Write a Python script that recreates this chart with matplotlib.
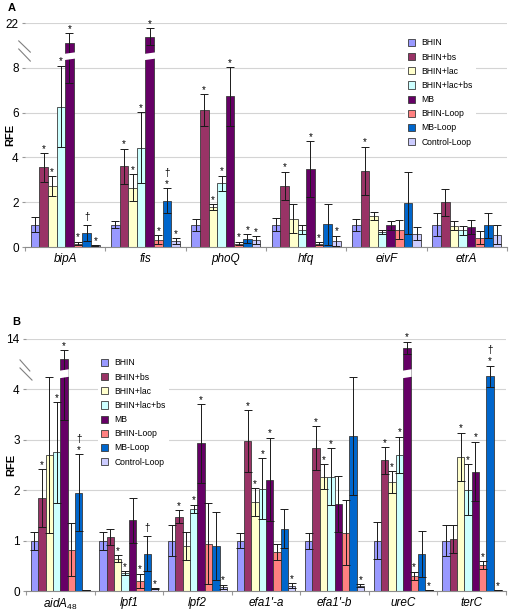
import numpy as np
import matplotlib
matplotlib.use("Agg")
import matplotlib.pyplot as plt
from matplotlib.patches import Polygon

plt.rcParams['font.family'] = ['Liberation Sans', 'DejaVu Sans']
plt.rcParams['mathtext.fontset'] = 'custom'
plt.rcParams['mathtext.it'] = 'Liberation Sans:italic'
plt.rcParams['mathtext.rm'] = 'Liberation Sans'

series = ["BHIN", "BHIN+bs", "BHIN+lac", "BHIN+lac+bs", "MB", "BHIN-Loop", "MB-Loop", "Control-Loop"]
colors = ['#9999FF', '#993366', '#FFFFCC', '#CCFFFF', '#660066', '#FF8080', '#0066CC', '#CCCCFF']

# panel A
genes_a = ["bipA", "fis", "phoQ", "hfq", "eivF", "etrA"]
values_a = [
    [1.0, 3.55, 2.72, 6.27, 12.1, 0.15, 0.63, 0.07],
    [1.0, 3.61, 2.64, 4.43, 15.3, 0.33, 2.07, 0.27],
    [1.0, 6.12, 1.79, 2.84, 6.72, 0.15, 0.37, 0.30],
    [1.0, 2.73, 1.27, 0.78, 3.46, 0.15, 1.01, 0.27],
    [1.0, 3.40, 1.37, 0.67, 0.97, 0.78, 1.97, 0.60],
    [1.0, 1.99, 0.94, 0.75, 0.90, 0.42, 0.97, 0.55],
]
errors_a = [
    [0.35, 0.63, 0.45, 1.82, 4.8, 0.08, 0.37, 0.02],
    [0.15, 0.78, 0.60, 1.59, 4.1, 0.20, 0.56, 0.12],
    [0.27, 0.71, 0.12, 0.35, 1.30, 0.08, 0.20, 0.18],
    [0.30, 0.63, 0.63, 0.20, 1.25, 0.07, 0.93, 0.23],
    [0.27, 1.08, 0.18, 0.10, 0.20, 0.43, 1.38, 0.30],
    [0.50, 0.62, 0.20, 0.20, 0.32, 0.28, 0.57, 0.42],
]
marks_a = [
    ['', '*', '*', '*', '*', '*', '†', '*'],
    ['', '*', '*', '*', '*', '*', '*†', '*'],
    ['', '*', '*', '*', '*', '*', '*', '*'],
    ['', '*', '', '', '*', '*', '', '*'],
    ['', '*', '', '', '', '', '', ''],
    ['', '', '', '', '', '', '', ''],
]

# panel B
genes_b = [r"$\mathit{aidA}_{\mathrm{48}}$", "lpf1", "lpf2", "efa1'-a", "efa1'-b", "ureC", "terC"]
values_b = [
    [1.0, 1.84, 2.70, 2.75, 6.6, 0.82, 1.95, 0.01],
    [1.0, 1.07, 0.64, 0.35, 1.40, 0.20, 0.74, 0.04],
    [1.0, 1.47, 0.90, 1.63, 2.93, 0.94, 0.89, 0.08],
    [1.0, 2.98, 1.76, 2.03, 2.21, 0.78, 1.24, 0.10],
    [1.0, 2.84, 2.27, 2.27, 1.73, 1.16, 3.08, 0.10],
    [1.0, 2.59, 2.16, 2.70, 10.6, 0.30, 0.73, 0.01],
    [1.0, 1.03, 2.66, 2.01, 2.37, 0.51, 4.26, 0.01],
]
errors_b = [
    [0.18, 0.58, 1.54, 1.00, 3.2, 0.52, 0.76, 0.0],
    [0.18, 0.16, 0.07, 0.04, 0.45, 0.14, 0.35, 0.01],
    [0.30, 0.13, 0.28, 0.08, 0.78, 0.80, 0.67, 0.04],
    [0.15, 0.61, 0.28, 0.60, 0.83, 0.16, 0.38, 0.05],
    [0.16, 0.43, 0.25, 0.56, 0.55, 0.64, 1.17, 0.03],
    [0.37, 0.26, 0.22, 0.36, 2.4, 0.08, 0.46, 0.0],
    [0.31, 0.28, 0.48, 0.50, 0.59, 0.08, 0.21, 0.0],
]
marks_b = [
    ['', '*', '', '*', '*', '', '*†', ''],
    ['', '', '*', '*', '', '*', '†', '*'],
    ['', '*', '', '*', '*', '', '', '*'],
    ['', '*', '*', '*', '*', '', '', '*'],
    ['', '*', '*', '*', '', '', '', '*'],
    ['', '*', '*', '*', '*', '*', '', '*'],
    ['', '', '*', '*', '*', '*', '*†', '*'],
]


def broken_scale(cut, top, top_pos):
    # linear up to cut, then squeezed so that 'top' lands at top_pos
    k = (top_pos - cut) / (top - cut)

    def forward(v):
        v = np.asarray(v, dtype=float)
        return np.where(v <= cut, v, cut + (v - cut) * k)

    def inverse(u):
        u = np.asarray(u, dtype=float)
        return np.where(u <= cut, u, cut + (u - cut) / k)
    return forward, inverse


def draw_panel(ax, genes, values, errors, marks, scale, ticks, gap, italic=True):
    values = np.array(values)
    errors = np.array(errors)
    fwd, inv = scale
    x = np.arange(len(genes))
    n = len(series)
    w = 0.86 / n
    ax.set_yscale('function', functions=(fwd, inv))
    ax.set_axisbelow(True)
    for i in range(n):
        pos = x - 0.43 + w * (i + 0.5)
        bars = ax.bar(pos, values[:, i], w, color=colors[i], edgecolor='#3a3a3a',
                      linewidth=0.6, label=series[i], zorder=2)
        ax.errorbar(pos, values[:, i], yerr=errors[:, i], fmt='none', ecolor='#1a1a1a',
                    elinewidth=0.7, capsize=2.6, capthick=0.7, zorder=3)
        tops = values[:, i] + errors[:, i]
        for j in range(len(genes)):
            m = marks[j][i]
            if '*' in m:
                ax.annotate('*', (pos[j], tops[j]), xytext=(0, 1), textcoords='offset points',
                            ha='center', va='baseline', fontsize=7, annotation_clip=False, zorder=4)
            if '†' in m:
                off = 9.0 if '*' in m else 3.5
                ax.annotate('†', (pos[j], tops[j]), xytext=(0, off), textcoords='offset points',
                            ha='center', va='baseline', fontsize=7, annotation_clip=False, zorder=4)
            # white slanted gap on bars that run past the break
            if fwd(values[j, i]) > gap[1]:
                b = bars[j]
                x0 = b.get_x() - 0.15 * w
                x1 = b.get_x() + 1.15 * w
                g0, g1, s = gap
                poly = Polygon([(x0, g0), (x1, g0 + s), (x1, g1 + s), (x0, g1)],
                               closed=True, facecolor='white', edgecolor='none', zorder=3.5)
                ax.add_patch(poly)

    ax.set_xlim(-0.5, len(genes) - 0.5)
    ax.set_ylim(ticks[0], ticks[-1])
    ax.set_yticks(ticks)
    ax.set_yticklabels([str(t) for t in ticks])
    ax.set_xticks(x)
    ax.set_xticklabels(genes, fontstyle='italic' if italic else 'normal', fontsize=8.5)
    ax.set_xticks(np.arange(len(genes) + 1) - 0.5, minor=True)
    ax.tick_params(axis='x', which='major', length=0, pad=4)
    ax.tick_params(axis='x', which='minor', length=3, color='#999999', width=0.8)
    ax.tick_params(axis='y', length=2.5, color='#999999', width=0.8, pad=2, labelsize=8.5)
    ax.yaxis.grid(True, color='#d4d4d4', linewidth=0.8)
    for s in ['top', 'right', 'left']:
        ax.spines[s].set_visible(False)
    ax.spines['bottom'].set_color('#8c8c8c')
    ax.spines['bottom'].set_linewidth(0.8)
    ax.set_ylabel('RFE', fontsize=8, fontweight='bold')
    ax.yaxis.set_label_coords(-0.021, 0.5)


def add_legend(ax, anchor):
    ax.legend(loc='upper left', bbox_to_anchor=anchor, bbox_transform=fig.transFigure,
              fontsize=6.2, handlelength=0.8, handleheight=0.9, handletextpad=0.7, labelspacing=0.6,
              borderpad=0.4, borderaxespad=0, frameon=True, facecolor='white', edgecolor='none',
              framealpha=1, fancybox=False)


fig = plt.figure(figsize=(5.1, 6.14), dpi=100)

ax_a = fig.add_axes([25 / 510, 1 - 247 / 614, 482 / 510, 224 / 614])
draw_panel(ax_a, genes_a, values_a, errors_a, marks_a, broken_scale(8.8, 22, 10),
           [0, 2, 4, 6, 8, 22], (8.34, 8.62, 0.07))
# break marks on the axis
for y0, y1 in [(0.92, 0.87), (0.884, 0.83)]:
    ax_a.plot([-0.013, 0.011], [y0, y1], transform=ax_a.transAxes, color='#808080',
              linewidth=0.8, clip_on=False)
add_legend(ax_a, (405 / 510, 1 - 35 / 614))

ax_b = fig.add_axes([26 / 510, 1 - 591 / 614, 480 / 510, 252 / 614])
draw_panel(ax_b, genes_b, values_b, errors_b, marks_b, broken_scale(4.5, 14, 5),
           [0, 1, 2, 3, 4, 14], (4.22, 4.37, 0.03))
for y0, y1, x1 in [(0.917, 0.873, 0.008), (0.885, 0.837, 0.0125)]:
    ax_b.plot([-0.0125, x1], [y0, y1], transform=ax_b.transAxes, color='#808080',
              linewidth=0.8, clip_on=False)
add_legend(ax_b, (98 / 510, 1 - 355 / 614))

fig.text(8 / 510, 1 - 8 / 614, 'A', fontsize=8, fontweight='bold', va='center', ha='left')
fig.text(12 / 510, 1 - 322 / 614, 'B', fontsize=8, fontweight='bold', va='center', ha='left')

fig.savefig('out.png', dpi=100)
